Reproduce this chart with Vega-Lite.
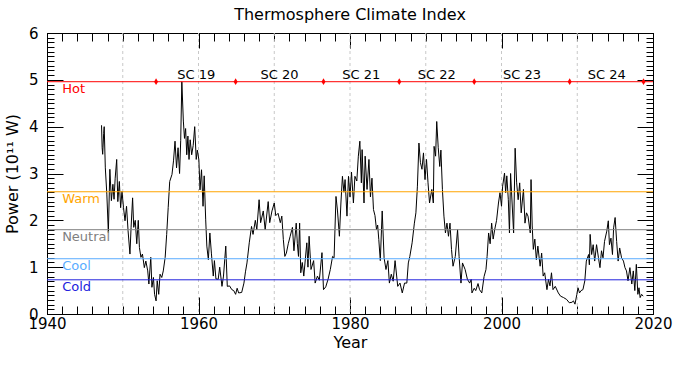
{
  "$schema": "https://vega.github.io/schema/vega-lite/v6.json",
  "width": 606,
  "height": 281,
  "autosize": "none",
  "padding": {"left": 47, "top": 33, "right": 37, "bottom": 55},
  "background": "white",
  "title": {"text": "Thermosphere Climate Index", "font": "DejaVu Sans", "fontSize": 16, "fontWeight": "normal", "color": "#000", "offset": 3},
  "config": {
    "view": {"stroke": "#000", "strokeWidth": 1},
    "axis": {"labelFont": "DejaVu Sans", "titleFont": "DejaVu Sans", "labelFontSize": 15, "titleFontSize": 16, "titleFontWeight": "normal", "labelColor": "#000", "titleColor": "#000", "tickColor": "#000", "domain": false, "grid": false, "labelFlush": false, "labelOverlap": false}
  },
  "datasets": {
    "tci": [
      {"year":1947.2,"power":4.03},{"year":1947.28,"power":3.55},{"year":1947.35,"power":3.41},{"year":1947.48,"power":3.85},{"year":1947.55,"power":4.0},{"year":1947.7,"power":3.12},{"year":1947.9,"power":2.56},{"year":1948.1,"power":1.74},{"year":1948.3,"power":3.09},{"year":1948.5,"power":2.42},{"year":1948.7,"power":2.77},{"year":1948.85,"power":2.45},{"year":1949.0,"power":2.9},{"year":1949.2,"power":3.3},{"year":1949.35,"power":2.4},{"year":1949.55,"power":2.83},{"year":1949.72,"power":2.27},{"year":1949.9,"power":2.62},{"year":1950.1,"power":2.27},{"year":1950.3,"power":1.99},{"year":1950.5,"power":2.3},{"year":1950.7,"power":1.78},{"year":1950.95,"power":1.28},{"year":1951.1,"power":1.85},{"year":1951.3,"power":2.48},{"year":1951.45,"power":1.85},{"year":1951.65,"power":2.0},{"year":1951.85,"power":1.5},{"year":1952.05,"power":2.0},{"year":1952.2,"power":1.42},{"year":1952.4,"power":1.21},{"year":1952.6,"power":1.28},{"year":1952.85,"power":0.99},{"year":1953.05,"power":1.13},{"year":1953.3,"power":0.92},{"year":1953.45,"power":0.64},{"year":1953.7,"power":1.21},{"year":1953.85,"power":0.57},{"year":1954.05,"power":0.78},{"year":1954.2,"power":0.42},{"year":1954.4,"power":0.28},{"year":1954.55,"power":0.71},{"year":1954.75,"power":0.42},{"year":1954.92,"power":0.85},{"year":1955.15,"power":0.78},{"year":1955.35,"power":0.92},{"year":1955.6,"power":1.21},{"year":1955.8,"power":1.7},{"year":1956.0,"power":2.27},{"year":1956.2,"power":2.83},{"year":1956.5,"power":2.98},{"year":1956.7,"power":3.27},{"year":1956.9,"power":3.69},{"year":1957.1,"power":3.12},{"year":1957.3,"power":3.55},{"year":1957.5,"power":3.0},{"year":1957.65,"power":3.7},{"year":1957.8,"power":4.96},{"year":1958.0,"power":4.12},{"year":1958.15,"power":3.75},{"year":1958.3,"power":3.96},{"year":1958.45,"power":3.4},{"year":1958.6,"power":3.8},{"year":1958.75,"power":3.3},{"year":1958.9,"power":3.72},{"year":1959.1,"power":3.4},{"year":1959.3,"power":3.6},{"year":1959.5,"power":4.0},{"year":1959.7,"power":3.3},{"year":1959.85,"power":3.5},{"year":1960.05,"power":3.29},{"year":1960.2,"power":2.65},{"year":1960.4,"power":3.08},{"year":1960.6,"power":2.3},{"year":1960.75,"power":2.95},{"year":1960.95,"power":2.01},{"year":1961.1,"power":1.45},{"year":1961.3,"power":1.16},{"year":1961.5,"power":1.73},{"year":1961.7,"power":1.3},{"year":1961.95,"power":0.81},{"year":1962.1,"power":1.14},{"year":1962.3,"power":0.75},{"year":1962.6,"power":0.74},{"year":1962.8,"power":1.0},{"year":1963.1,"power":0.59},{"year":1963.3,"power":0.81},{"year":1963.6,"power":1.45},{"year":1963.8,"power":0.59},{"year":1964.1,"power":0.6},{"year":1964.4,"power":0.52},{"year":1964.65,"power":0.5},{"year":1964.9,"power":0.42},{"year":1965.1,"power":0.55},{"year":1965.3,"power":0.45},{"year":1965.7,"power":0.46},{"year":1966.0,"power":0.66},{"year":1966.2,"power":0.9},{"year":1966.4,"power":1.09},{"year":1966.7,"power":1.52},{"year":1967.0,"power":1.87},{"year":1967.2,"power":1.7},{"year":1967.5,"power":2.0},{"year":1967.7,"power":1.8},{"year":1968.0,"power":2.44},{"year":1968.2,"power":1.95},{"year":1968.55,"power":2.2},{"year":1968.8,"power":1.8},{"year":1969.2,"power":2.4},{"year":1969.4,"power":1.95},{"year":1969.7,"power":2.2},{"year":1970.0,"power":2.37},{"year":1970.2,"power":2.1},{"year":1970.5,"power":2.15},{"year":1970.8,"power":1.95},{"year":1971.0,"power":2.09},{"year":1971.2,"power":1.59},{"year":1971.4,"power":1.23},{"year":1971.6,"power":1.3},{"year":1971.85,"power":1.5},{"year":1972.1,"power":1.66},{"year":1972.4,"power":1.85},{"year":1972.6,"power":1.35},{"year":1972.9,"power":1.94},{"year":1973.05,"power":1.5},{"year":1973.2,"power":1.23},{"year":1973.35,"power":1.94},{"year":1973.5,"power":0.88},{"year":1973.7,"power":1.1},{"year":1973.9,"power":0.81},{"year":1974.3,"power":1.52},{"year":1974.45,"power":1.0},{"year":1974.6,"power":1.66},{"year":1974.85,"power":0.95},{"year":1975.2,"power":1.14},{"year":1975.4,"power":0.66},{"year":1975.7,"power":0.81},{"year":1975.95,"power":0.72},{"year":1976.3,"power":1.31},{"year":1976.5,"power":0.52},{"year":1976.8,"power":0.58},{"year":1977.1,"power":0.74},{"year":1977.4,"power":0.95},{"year":1977.7,"power":1.23},{"year":1977.9,"power":1.2},{"year":1978.15,"power":2.51},{"year":1978.35,"power":2.2},{"year":1978.6,"power":1.66},{"year":1978.8,"power":2.37},{"year":1979.0,"power":2.94},{"year":1979.2,"power":2.6},{"year":1979.35,"power":2.87},{"year":1979.6,"power":2.09},{"year":1979.8,"power":2.94},{"year":1980.0,"power":2.5},{"year":1980.2,"power":3.03},{"year":1980.45,"power":2.37},{"year":1980.65,"power":2.94},{"year":1980.9,"power":2.84},{"year":1981.1,"power":3.37},{"year":1981.3,"power":3.69},{"year":1981.5,"power":2.8},{"year":1981.6,"power":3.51},{"year":1981.85,"power":2.37},{"year":1982.0,"power":3.37},{"year":1982.25,"power":2.66},{"year":1982.5,"power":3.3},{"year":1982.7,"power":2.5},{"year":1982.9,"power":2.9},{"year":1983.1,"power":2.23},{"year":1983.3,"power":2.1},{"year":1983.5,"power":1.8},{"year":1983.65,"power":1.9},{"year":1983.8,"power":1.59},{"year":1984.0,"power":1.14},{"year":1984.25,"power":2.2},{"year":1984.5,"power":1.2},{"year":1984.75,"power":0.95},{"year":1985.0,"power":1.14},{"year":1985.2,"power":0.66},{"year":1985.45,"power":0.85},{"year":1985.7,"power":0.7},{"year":1985.95,"power":1.14},{"year":1986.3,"power":0.59},{"year":1986.6,"power":0.66},{"year":1986.9,"power":0.45},{"year":1987.2,"power":0.66},{"year":1987.5,"power":0.66},{"year":1987.7,"power":1.09},{"year":1987.9,"power":1.23},{"year":1988.2,"power":1.52},{"year":1988.5,"power":1.94},{"year":1988.7,"power":2.16},{"year":1988.9,"power":2.73},{"year":1989.1,"power":3.65},{"year":1989.3,"power":3.23},{"year":1989.5,"power":3.09},{"year":1989.7,"power":3.44},{"year":1989.9,"power":2.87},{"year":1990.1,"power":3.3},{"year":1990.3,"power":2.8},{"year":1990.5,"power":2.37},{"year":1990.8,"power":2.66},{"year":1991.0,"power":2.37},{"year":1991.1,"power":3.58},{"year":1991.3,"power":3.37},{"year":1991.45,"power":4.11},{"year":1991.65,"power":3.55},{"year":1991.85,"power":3.15},{"year":1992.0,"power":3.5},{"year":1992.2,"power":2.66},{"year":1992.4,"power":2.09},{"year":1992.6,"power":1.73},{"year":1992.8,"power":1.94},{"year":1993.0,"power":1.66},{"year":1993.2,"power":1.94},{"year":1993.4,"power":1.38},{"year":1993.6,"power":1.02},{"year":1993.9,"power":1.23},{"year":1994.2,"power":1.8},{"year":1994.4,"power":1.23},{"year":1994.65,"power":0.66},{"year":1994.85,"power":1.09},{"year":1995.2,"power":0.95},{"year":1995.5,"power":0.74},{"year":1995.8,"power":0.66},{"year":1996.0,"power":0.74},{"year":1996.1,"power":0.45},{"year":1996.4,"power":0.55},{"year":1996.6,"power":0.5},{"year":1996.9,"power":0.65},{"year":1997.1,"power":0.52},{"year":1997.4,"power":0.45},{"year":1997.7,"power":0.8},{"year":1997.95,"power":0.95},{"year":1998.1,"power":1.23},{"year":1998.3,"power":1.73},{"year":1998.5,"power":1.5},{"year":1998.7,"power":1.94},{"year":1998.9,"power":1.6},{"year":1999.1,"power":1.8},{"year":1999.35,"power":2.0},{"year":1999.6,"power":2.37},{"year":1999.8,"power":2.59},{"year":2000.0,"power":2.3},{"year":2000.15,"power":2.73},{"year":2000.4,"power":3.01},{"year":2000.55,"power":2.59},{"year":2000.7,"power":2.95},{"year":2000.9,"power":2.44},{"year":2001.05,"power":1.73},{"year":2001.2,"power":3.0},{"year":2001.4,"power":2.37},{"year":2001.6,"power":1.73},{"year":2001.8,"power":3.54},{"year":2002.0,"power":2.8},{"year":2002.2,"power":2.44},{"year":2002.4,"power":2.8},{"year":2002.6,"power":2.16},{"year":2002.9,"power":2.66},{"year":2003.1,"power":1.94},{"year":2003.3,"power":2.16},{"year":2003.5,"power":2.09},{"year":2003.8,"power":1.73},{"year":2003.9,"power":2.87},{"year":2004.05,"power":1.9},{"year":2004.2,"power":1.38},{"year":2004.4,"power":1.6},{"year":2004.6,"power":1.16},{"year":2004.8,"power":1.45},{"year":2005.1,"power":1.02},{"year":2005.3,"power":1.3},{"year":2005.5,"power":0.81},{"year":2005.7,"power":0.88},{"year":2006.0,"power":0.52},{"year":2006.2,"power":0.74},{"year":2006.4,"power":0.6},{"year":2006.6,"power":0.88},{"year":2006.8,"power":0.52},{"year":2007.1,"power":0.59},{"year":2007.5,"power":0.45},{"year":2007.8,"power":0.38},{"year":2008.2,"power":0.35},{"year":2008.6,"power":0.31},{"year":2008.95,"power":0.24},{"year":2009.3,"power":0.25},{"year":2009.5,"power":0.28},{"year":2009.7,"power":0.21},{"year":2009.95,"power":0.42},{"year":2010.1,"power":0.56},{"year":2010.3,"power":0.45},{"year":2010.5,"power":0.5},{"year":2010.75,"power":0.52},{"year":2011.0,"power":0.71},{"year":2011.2,"power":1.13},{"year":2011.5,"power":1.27},{"year":2011.6,"power":1.05},{"year":2011.7,"power":1.7},{"year":2011.9,"power":1.27},{"year":2012.1,"power":1.48},{"year":2012.3,"power":1.13},{"year":2012.55,"power":1.48},{"year":2012.8,"power":1.2},{"year":2013.0,"power":0.99},{"year":2013.2,"power":1.35},{"year":2013.4,"power":1.2},{"year":2013.6,"power":1.55},{"year":2013.9,"power":1.77},{"year":2014.1,"power":1.99},{"year":2014.25,"power":1.48},{"year":2014.45,"power":1.62},{"year":2014.65,"power":1.27},{"year":2014.8,"power":1.84},{"year":2015.0,"power":2.06},{"year":2015.2,"power":1.55},{"year":2015.4,"power":1.13},{"year":2015.6,"power":1.41},{"year":2015.85,"power":1.2},{"year":2016.1,"power":1.13},{"year":2016.3,"power":0.99},{"year":2016.5,"power":0.92},{"year":2016.7,"power":0.71},{"year":2016.95,"power":0.99},{"year":2017.2,"power":0.64},{"year":2017.4,"power":0.92},{"year":2017.6,"power":0.5},{"year":2017.8,"power":1.06},{"year":2018.0,"power":0.42},{"year":2018.15,"power":0.56},{"year":2018.3,"power":0.35},{"year":2018.5,"power":0.42},{"year":2018.7,"power":0.38}
    ],
    "levels": [
      {"name": "Hot", "value": 4.96},
      {"name": "Warm", "value": 2.61},
      {"name": "Neutral", "value": 1.8},
      {"name": "Cool", "value": 1.18},
      {"name": "Cold", "value": 0.73}
    ],
    "cycles": [
      {"year": 1954.4, "level": 4.96},
      {"year": 1964.9, "level": 4.96},
      {"year": 1976.5, "level": 4.96},
      {"year": 1986.5, "level": 4.96},
      {"year": 1996.4, "level": 4.96},
      {"year": 2009.0, "level": 4.96},
      {"year": 2018.75, "level": 4.96}
    ],
    "sc": [
      {"label": "SC 19", "year": 1959.7, "level": 4.96},
      {"label": "SC 20", "year": 1970.7, "level": 4.96},
      {"label": "SC 21", "year": 1981.5, "level": 4.96},
      {"label": "SC 22", "year": 1991.45, "level": 4.96},
      {"label": "SC 23", "year": 2002.7, "level": 4.96},
      {"label": "SC 24", "year": 2013.9, "level": 4.96}
    ],
    "grid": [
      {"year": 1950}, {"year": 1960}, {"year": 1970}, {"year": 1980}, {"year": 1990}, {"year": 2000}, {"year": 2010}
    ]
  },
  "resolve": {"axis": {"x": "independent", "y": "independent"}},
  "layer": [
    {
      "data": {"name": "grid"},
      "mark": {"type": "rule", "color": "#c8c8c8", "strokeDash": [3, 3], "strokeWidth": 1},
      "encoding": {
        "x": {"field": "year", "type": "quantitative", "scale": {"domain": [1940, 2020], "nice": false, "zero": false},
          "axis": {"orient": "top", "values": [1940,1942,1944,1946,1948,1950,1952,1954,1956,1958,1960,1962,1964,1966,1968,1970,1972,1974,1976,1978,1980,1982,1984,1986,1988,1990,1992,1994,1996,1998,2000,2002,2004,2006,2008,2010,2012,2014,2016,2018,2020], "tickSize": -8, "labels": false, "title": null}}
      }
    },
    {
      "data": {"name": "tci"},
      "mark": {"type": "line", "color": "#000", "strokeWidth": 1},
      "encoding": {
        "x": {"field": "year", "type": "quantitative", "scale": {"domain": [1940, 2020], "nice": false, "zero": false},
          "axis": {"orient": "bottom", "values": [1940, 1960, 1980, 2000, 2020], "tickSize": -17, "labelPadding": 19, "format": "d", "title": "Year", "titlePadding": 3}},
        "y": {"field": "power", "type": "quantitative", "scale": {"domain": [0, 6], "nice": false, "zero": false},
          "axis": {"orient": "left", "values": [0, 1, 2, 3, 4, 5, 6], "tickSize": -16, "labelPadding": 25, "title": "Power (10¹¹ W)", "titlePadding": 8}}
      }
    },
    {
      "data": {"name": "levels"},
      "mark": {"type": "rule", "strokeWidth": 1},
      "encoding": {
        "y": {"field": "value", "type": "quantitative", "scale": {"domain": [0, 6], "nice": false, "zero": false},
          "axis": {"orient": "left", "values": [0,0.1,0.2,0.3,0.4,0.5,0.6,0.7,0.8,0.9,1,1.1,1.2,1.3,1.4,1.5,1.6,1.7,1.8,1.9,2,2.1,2.2,2.3,2.4,2.5,2.6,2.7,2.8,2.9,3,3.1,3.2,3.3,3.4,3.5,3.6,3.7,3.8,3.9,4,4.1,4.2,4.3,4.4,4.5,4.6,4.7,4.8,4.9,5,5.1,5.2,5.3,5.4,5.5,5.6,5.7,5.8,5.9,6], "tickSize": -7, "labels": false, "title": null}},
        "color": {"field": "name", "type": "nominal", "scale": {"domain": ["Hot", "Warm", "Neutral", "Cool", "Cold"], "range": ["#ff0000", "#ffa500", "#808080", "#5aacff", "#2222dd"]}, "legend": null}
      }
    },
    {
      "data": {"name": "levels"},
      "mark": {"type": "text", "align": "left", "baseline": "top", "dy": 1, "font": "DejaVu Sans", "fontSize": 13},
      "encoding": {
        "x": {"datum": 1942, "type": "quantitative", "axis": null},
        "y": {"field": "value", "type": "quantitative", "scale": {"domain": [0, 6], "nice": false, "zero": false},
          "axis": {"orient": "right", "values": [0,0.1,0.2,0.3,0.4,0.5,0.6,0.7,0.8,0.9,1,1.1,1.2,1.3,1.4,1.5,1.6,1.7,1.8,1.9,2,2.1,2.2,2.3,2.4,2.5,2.6,2.7,2.8,2.9,3,3.1,3.2,3.3,3.4,3.5,3.6,3.7,3.8,3.9,4,4.1,4.2,4.3,4.4,4.5,4.6,4.7,4.8,4.9,5,5.1,5.2,5.3,5.4,5.5,5.6,5.7,5.8,5.9,6], "tickSize": -7, "labels": false, "title": null}},
        "text": {"field": "name"},
        "color": {"field": "name", "type": "nominal", "scale": {"domain": ["Hot", "Warm", "Neutral", "Cool", "Cold"], "range": ["#ff0000", "#ffa500", "#808080", "#5aacff", "#2222dd"]}, "legend": null}
      }
    },
    {
      "data": {"name": "cycles"},
      "mark": {"type": "point", "shape": "M0,-1L0.6,0L0,1L-0.6,0Z", "filled": true, "color": "#ff0000", "size": 45, "opacity": 1},
      "encoding": {
        "x": {"field": "year", "type": "quantitative", "scale": {"domain": [1940, 2020], "nice": false, "zero": false},
          "axis": {"orient": "bottom", "values": [1940,1942,1944,1946,1948,1950,1952,1954,1956,1958,1960,1962,1964,1966,1968,1970,1972,1974,1976,1978,1980,1982,1984,1986,1988,1990,1992,1994,1996,1998,2000,2002,2004,2006,2008,2010,2012,2014,2016,2018,2020], "tickSize": -8, "labels": false, "title": null}},
        "y": {"field": "level", "type": "quantitative", "scale": {"domain": [0, 6], "nice": false, "zero": false}, "axis": null}
      }
    },
    {
      "data": {"name": "sc"},
      "mark": {"type": "text", "align": "center", "baseline": "alphabetic", "dy": -3, "font": "DejaVu Sans", "fontSize": 13, "color": "#000"},
      "encoding": {
        "x": {"field": "year", "type": "quantitative", "scale": {"domain": [1940, 2020], "nice": false, "zero": false},
          "axis": {"orient": "top", "values": [1940, 1960, 1980, 2000, 2020], "tickSize": -15, "labels": false, "title": null}},
        "y": {"field": "level", "type": "quantitative", "scale": {"domain": [0, 6], "nice": false, "zero": false},
          "axis": {"orient": "right", "values": [0, 1, 2, 3, 4, 5, 6], "tickSize": -16, "labels": false, "title": null}},
        "text": {"field": "label"}
      }
    }
  ]
}
